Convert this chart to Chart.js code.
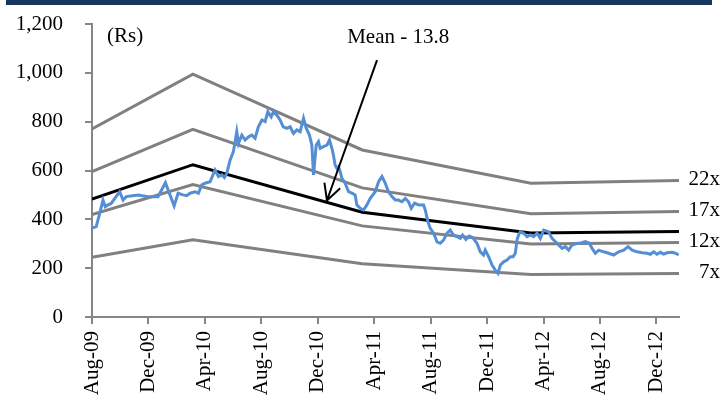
<!DOCTYPE html>
<html>
<head>
<meta charset="utf-8">
<script src="https://cdn.jsdelivr.net/npm/chart.js@4.4.1/dist/chart.umd.min.js"></script>
<style>
  html, body { margin: 0; padding: 0; background: #ffffff; }
  #wrap { position: relative; width: 723px; height: 403px; }
  #topbar { position: absolute; left: 6px; top: 0; width: 706px; height: 5px; background: #17375E; }
  canvas { position: absolute; left: 0; top: 0; }
</style>
</head>
<body>
<div id="wrap">
  <div id="topbar"></div>
  <canvas id="c" width="723" height="403"></canvas>
</div>
<script>
// Months counted from Aug-09 on the x axis
const tickMonths = [0, 4, 8, 12, 16, 20, 24, 28, 32, 36, 40];
const tickLabels = ['Aug-09', 'Dec-09', 'Apr-10', 'Aug-10', 'Dec-10', 'Apr-11',
                    'Aug-11', 'Dec-11', 'Apr-12', 'Aug-12', 'Dec-12'];

// Share price (Rs)
const priceMonths = [
  0.00, 0.30, 0.55, 0.78, 0.94, 1.13, 1.37, 1.96, 2.20, 2.43, 3.26, 3.97, 4.68, 5.20, 5.82, 6.10,
  6.45, 6.70, 6.95, 7.30, 7.54, 7.78, 8.01, 8.37, 8.72, 8.96, 9.20, 9.38, 9.55, 9.79, 10.02, 10.26,
  10.38, 10.62, 10.85, 11.09, 11.33, 11.56, 11.79, 12.04, 12.27, 12.46, 12.70, 12.86, 13.10, 13.33,
  13.55, 13.81, 14.04, 14.28, 14.52, 14.75, 14.99, 15.18, 15.41, 15.58, 15.70, 15.89, 16.05, 16.17,
  16.40, 16.65, 16.83, 17.00, 17.11, 17.23, 17.35, 17.47, 17.59, 17.71, 17.94, 18.18, 18.42, 18.65,
  18.77, 19.01, 19.24, 19.48, 19.72, 20.07, 20.31, 20.55, 20.78, 21.01, 21.26, 21.49, 21.72, 21.96,
  22.20, 22.43, 22.62, 22.86, 23.14, 23.50, 23.62, 23.81, 23.97, 24.21, 24.45, 24.68, 24.91, 25.16,
  25.39, 25.62, 25.87, 26.10, 26.26, 26.50, 26.74, 26.97, 27.28, 27.52, 27.75, 27.87, 28.11, 28.35,
  28.58, 28.77, 28.94, 29.17, 29.41, 29.65, 29.84, 30.00, 30.12, 30.23, 30.35, 30.59, 30.83, 31.06,
  31.30, 31.54, 31.77, 32.01, 32.36, 32.60, 32.96, 33.31, 33.55, 33.78, 34.02, 34.38, 34.61, 34.96,
  35.25, 35.44, 35.67, 35.91, 36.26, 36.62, 36.97, 37.33, 37.68, 37.99, 38.28, 38.63, 38.99, 39.34,
  39.57, 39.81, 40.04, 40.28, 40.52, 40.75, 41.11, 41.35, 41.58
];
const priceValues = [
  364, 370, 425, 479, 452, 459, 466, 513, 479, 493, 500, 493, 493, 550, 455, 507,
  500, 497, 507, 513, 507, 541, 548, 554, 602, 575, 582, 571, 588, 643, 677, 759,
  711, 745, 725, 738, 745, 732, 779, 807, 800, 841, 820, 841, 827, 807,
  779, 773, 779, 752, 766, 759, 814, 773, 745, 704, 582, 704, 718, 691,
  698, 704, 725, 691, 663, 622, 609, 616, 595, 568, 548, 513, 507, 500,
  459, 445, 438, 459, 486, 513, 554, 575, 548, 513, 493, 479, 479, 472,
  486, 472, 445, 466, 459, 459, 438, 390, 363, 343, 308, 302, 315, 343,
  356, 336, 329, 322, 336, 318, 332, 326, 302, 267, 254, 274, 247, 213,
  192, 179, 213, 226, 233, 247, 247, 261, 315, 336, 349, 343, 329, 336,
  329, 343, 322, 356, 349, 322, 302, 281, 288, 274, 295, 302, 302, 309,
  302, 281, 261, 274, 267, 261, 254, 267, 274, 288, 274, 267, 263, 261,
  257, 267, 257, 265, 258, 263, 265, 261, 254
];

// Earnings per share used for the P/E bands
const bandMonths = [0, 7.15, 19.15, 31.1, 41.6];
const epsValues = [35.0, 45.2, 31.1, 24.9, 25.4];
const bandMultiples = [22, 17, 13.8, 12, 7];
const bandLabels = ['22x', '17x', null, '12x', '7x'];

const FONT = '"Liberation Serif", "Times New Roman", serif';
const GREY = '#808080';
const AXIS = '#868686';

const priceData = priceMonths.map((m, i) => ({ x: m, y: priceValues[i] }));

const bandSets = bandMultiples.map((k, j) => ({
  label: bandLabels[j] || 'Mean - 13.8',
  data: bandMonths.map((m, i) => ({ x: m, y: epsValues[i] * k })),
  borderColor: k === 13.8 ? '#000000' : GREY,
  borderWidth: 3,
  pointRadius: 0,
  tension: 0,
  fill: false
}));

const annotations = {
  id: 'annotations',
  afterDatasetsDraw(chart) {
    const { ctx, scales: { x, y } } = chart;
    ctx.save();
    ctx.fillStyle = '#000';
    ctx.font = '21px ' + FONT;

    // unit label
    ctx.textAlign = 'left';
    ctx.textBaseline = 'middle';
    ctx.fillText('(Rs)', x.getPixelForValue(1.06), y.getPixelForValue(1150));

    // mean band callout
    ctx.textAlign = 'center';
    ctx.fillText('Mean - 13.8', x.getPixelForValue(21.7), y.getPixelForValue(1145));

    const x0 = x.getPixelForValue(20.2), y0 = y.getPixelForValue(1052);
    const x1 = x.getPixelForValue(16.65), y1 = y.getPixelForValue(477);
    ctx.strokeStyle = '#000';
    ctx.lineWidth = 2;
    ctx.beginPath();
    ctx.moveTo(x0, y0);
    ctx.lineTo(x1, y1);
    const ang = Math.atan2(y1 - y0, x1 - x0);
    const len = 18, spread = Math.PI / 6.5;
    ctx.moveTo(x1 - len * Math.cos(ang - spread), y1 - len * Math.sin(ang - spread));
    ctx.lineTo(x1, y1);
    ctx.lineTo(x1 - len * Math.cos(ang + spread), y1 - len * Math.sin(ang + spread));
    ctx.stroke();

    // band multiple labels at the right end of each band
    ctx.textAlign = 'right';
    ctx.textBaseline = 'middle';
    bandLabels.forEach((lab, j) => {
      if (!lab) return;
      const meta = chart.getDatasetMeta(j + 1);
      const last = meta.data[meta.data.length - 1];
      ctx.fillText(lab, 720, last.y - 1);
    });
    ctx.restore();
  }
};

new Chart(document.getElementById('c'), {
  type: 'line',
  data: {
    datasets: [
      {
        label: 'Price',
        data: priceData,
        borderColor: '#558ED5',
        borderWidth: 3,
        pointRadius: 0,
        tension: 0,
        fill: false
      },
      ...bandSets
    ]
  },
  options: {
    responsive: false,
    animation: false,
    devicePixelRatio: 1,
    layout: { padding: { top: 24, right: 44, left: 0, bottom: 0 } },
    plugins: { legend: { display: false }, tooltip: { enabled: false } },
    scales: {
      x: {
        type: 'linear',
        min: 0,
        max: 41.6,
        afterBuildTicks(scale) {
          scale.ticks = tickMonths.map(v => ({ value: v }));
        },
        afterFit(scale) { scale.height = 86; },
        ticks: {
          autoSkip: false,
          maxRotation: 90,
          minRotation: 90,
          padding: 7,
          color: '#000',
          font: { family: FONT, size: 21 },
          callback: (v) => {
            const i = tickMonths.indexOf(v);
            return i >= 0 ? tickLabels[i] : '';
          }
        },
        grid: { drawOnChartArea: false, drawTicks: true, tickLength: 7, color: AXIS, lineWidth: 2 },
        border: { display: true, color: AXIS, width: 2 }
      },
      y: {
        min: 0,
        max: 1200,
        afterFit(scale) {
          scale.width = 92;
          scale.paddingTop = 0;
          scale.paddingBottom = 0;
        },
        ticks: {
          stepSize: 200,
          padding: 22,
          color: '#000',
          font: { family: FONT, size: 21 },
          callback: (v) => v.toLocaleString('en-US')
        },
        grid: { drawOnChartArea: false, drawTicks: true, tickLength: 7, color: AXIS, lineWidth: 2 },
        border: { display: true, color: AXIS, width: 2 }
      }
    }
  },
  plugins: [annotations]
});
</script>
</body>
</html>
